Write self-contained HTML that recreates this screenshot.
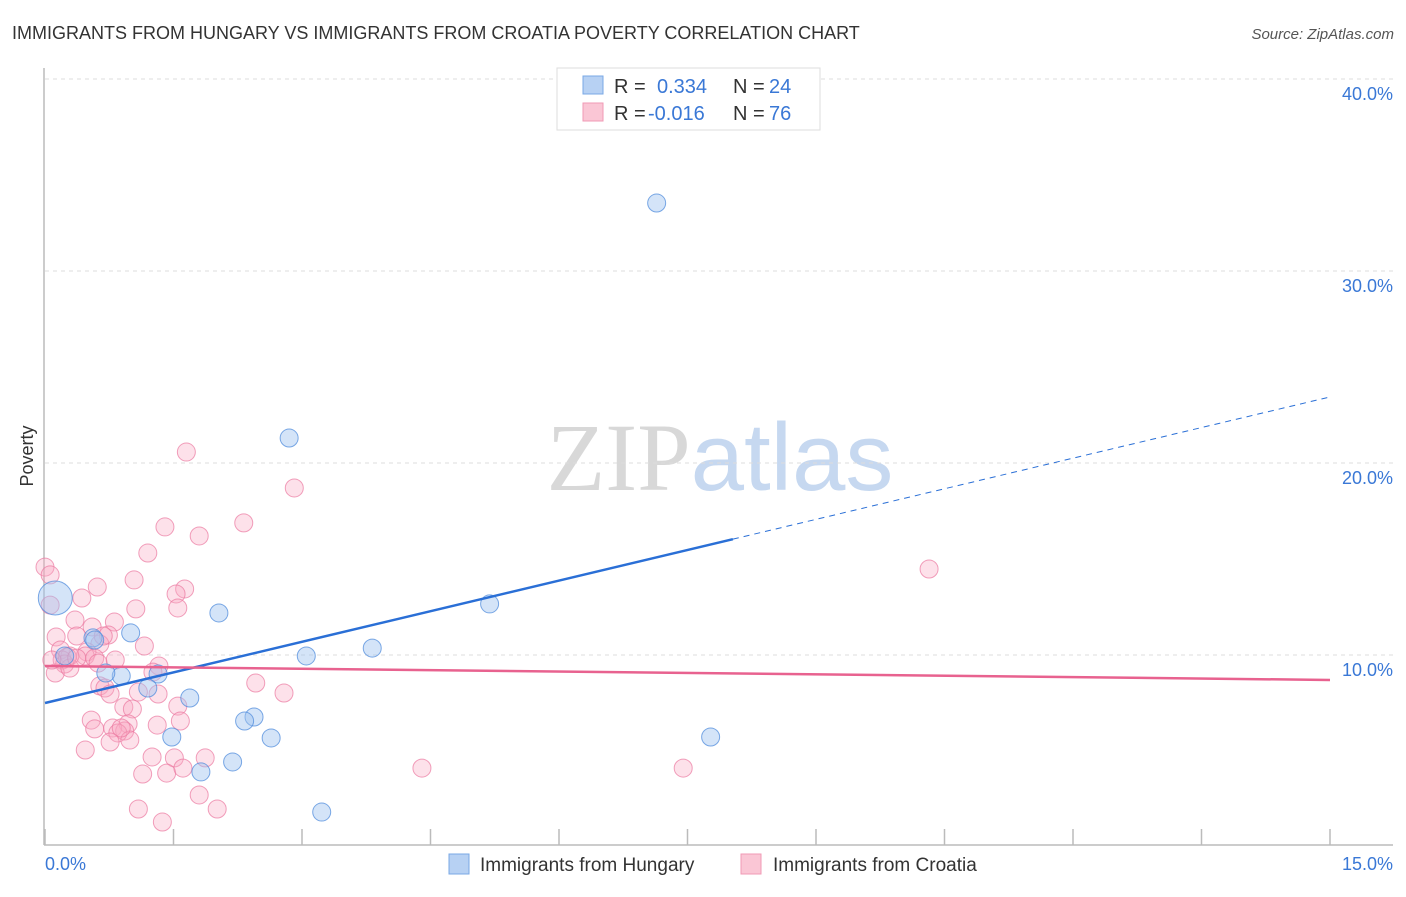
<!DOCTYPE html>
<html><head><meta charset="utf-8"><style>
body{margin:0;background:#fff;font-family:"Liberation Sans",sans-serif;}
svg text{font-family:"Liberation Sans",sans-serif;}
</style></head><body>
<svg id="chart" width="1406" height="892" xmlns="http://www.w3.org/2000/svg">
<text x="12" y="39" font-size="18" fill="#333">IMMIGRANTS FROM HUNGARY VS IMMIGRANTS FROM CROATIA POVERTY CORRELATION CHART</text>
<text x="1394" y="39" font-size="15" fill="#555" text-anchor="end" font-style="italic">Source: ZipAtlas.com</text>
<text x="720" y="490" font-size="96" text-anchor="middle"><tspan fill="#d8d8d8" font-family="Liberation Serif">ZIP</tspan><tspan fill="#c6d8f0">atlas</tspan></text>
<g id="grid"></g>
<g id="axes"></g>
<g id="pts"></g>
<g id="trends"></g>
<text transform="translate(33,456) rotate(-90)" font-size="18" fill="#333" text-anchor="middle">Poverty</text>
<g>
<rect x="557" y="68" width="263" height="62" fill="#fff" stroke="#ddd"/>
<rect x="583" y="76" width="20" height="18" fill="#b7d1f3" stroke="#7aa8e6"/>
<rect x="583" y="103" width="20" height="18" fill="#fac6d5" stroke="#f09ab5"/>
<text x="614" y="93" font-size="20" fill="#333">R =</text>
<text x="657" y="93" font-size="20" fill="#3a78d6">0.334</text>
<text x="733" y="93" font-size="20" fill="#333">N =</text>
<text x="769" y="93" font-size="20" fill="#3a78d6">24</text>
<text x="614" y="120" font-size="20" fill="#333">R =</text>
<text x="648" y="120" font-size="20" fill="#3a78d6">-0.016</text>
<text x="733" y="120" font-size="20" fill="#333">N =</text>
<text x="769" y="120" font-size="20" fill="#3a78d6">76</text>
</g>
<g>
<rect x="449" y="854" width="20" height="20" fill="#b7d1f3" stroke="#7aa8e6"/>
<text x="480" y="871" font-size="19" fill="#333">Immigrants from Hungary</text>
<rect x="741" y="854" width="20" height="20" fill="#fac6d5" stroke="#f09ab5"/>
<text x="773" y="871" font-size="19" fill="#333">Immigrants from Croatia</text>
</g>
</svg>
<script>
const yTicks=[10,20,30,40];
const yTickLabels=["10.0%","20.0%","30.0%","40.0%"];
const xTicks=[0,1.5,3,4.5,6,7.5,9,10.5,12,13.5,15];
const hungaryX=[7.14,2.85,5.19,2.03,3.82,1.00,0.56,3.05,0.23,0.89,1.32,1.20,1.69,2.44,2.33,1.48,2.64,7.77,2.19,1.82,3.23,0.71,0.12,0.58];
const hungaryY=[33.54,21.30,12.66,12.19,10.36,11.15,10.89,9.95,9.95,8.91,9.01,8.28,7.76,6.77,6.56,5.73,5.68,5.73,4.43,3.91,1.82,9.06,12.97,10.78];
const croatiaX=[1.65,2.91,1.40,2.32,1.80,1.20,0.00,0.06,1.04,0.61,1.63,1.53,0.43,0.06,1.06,1.55,0.35,0.81,0.55,0.74,0.13,0.37,1.16,0.64,0.18,0.49,0.47,0.29,0.20,0.58,0.23,0.12,1.33,1.26,0.29,0.62,0.64,0.70,1.09,1.32,0.76,0.92,1.02,1.55,2.46,2.79,0.54,1.58,1.31,0.97,0.58,0.79,0.93,0.85,0.76,0.99,0.47,1.87,1.51,1.14,1.42,1.61,4.40,7.45,1.80,1.09,2.01,1.37,10.32,1.25,0.68,0.26,0.37,0.82,0.08,0.89];
const croatiaY=[20.57,18.70,16.67,16.88,16.20,15.31,14.58,14.17,13.91,13.54,13.44,13.18,12.97,12.60,12.40,12.45,11.82,11.72,11.46,11.04,10.94,10.99,10.47,10.57,10.26,10.16,9.95,9.95,9.74,9.84,9.53,9.06,9.43,9.11,9.32,9.58,8.39,8.28,8.07,7.97,7.97,7.29,7.19,7.34,8.54,8.02,6.61,6.56,6.35,6.41,6.15,6.20,6.04,5.94,5.47,5.57,5.05,4.64,4.64,3.80,3.85,4.11,4.11,4.11,2.71,1.98,1.98,1.30,14.48,4.69,10.99,9.90,9.84,9.74,9.74,6.20];
const hungaryTrend=[7.5,23.44];
const hungarySolidEnd=8.03;
const croatiaTrend=[9.43,8.70];

const NS="http://www.w3.org/2000/svg";
const X0=45,X1=1330,Y0=847,PPY=19.2;
function sx(v){return X0+(X1-X0)*v/15;}
function sy(v){return Y0-v*PPY;}
function mk(tag,attrs,parent){const e=document.createElementNS(NS,tag);for(const k in attrs)e.setAttribute(k,attrs[k]);parent.appendChild(e);return e;}
const grid=document.getElementById('grid'),axes=document.getElementById('axes'),pts=document.getElementById('pts'),tr=document.getElementById('trends');
yTicks.forEach((t,i)=>{
  const l=mk('line',{x1:45,x2:1393,y1:sy(t),y2:sy(t),stroke:'#ddd','stroke-dasharray':'4,4'},grid);
  
  
  const tx=mk('text',{x:1393,y:sy(t)+21,'font-size':18,fill:'#3a78d6','text-anchor':'end'},axes);
  tx.textContent=yTickLabels[i];
  
  
});
const ya=mk('line',{x1:44,x2:44,y1:68,y2:845,stroke:'#bbb','stroke-width':1.5},axes);


const xa=mk('line',{x1:44,x2:1393,y1:845,y2:845,stroke:'#bbb','stroke-width':1.5},axes);


xTicks.forEach(t=>{
  const l=mk('line',{x1:sx(t),x2:sx(t),y1:829,y2:845,stroke:'#bbb','stroke-width':1.5},axes);
  
  
});
const xl0=mk('text',{x:45,y:870,'font-size':18,fill:'#3a78d6'},axes);xl0.textContent='0.0%';


const xl1=mk('text',{x:1393,y:870,'font-size':18,fill:'#3a78d6','text-anchor':'end'},axes);xl1.textContent='15.0%';


croatiaX.forEach((x,i)=>{
  const c=mk('circle',{cx:sx(x),cy:sy(croatiaY[i]),r:9,fill:'rgba(248,170,195,0.35)',stroke:'rgba(235,120,160,0.7)','stroke-width':1},pts);
  
  
});
hungaryX.forEach((x,i)=>{
  const big=(i===22);
  const c=mk('circle',{cx:sx(x),cy:sy(hungaryY[i]),r:big?17:9,fill:'rgba(160,195,240,0.45)',stroke:'rgba(80,140,220,0.75)','stroke-width':1},pts);
  
  
});
function lin(a,x){return a[0]+(a[1]-a[0])*x/15;}
const hs=mk('line',{x1:sx(0),y1:sy(hungaryTrend[0]),x2:sx(hungarySolidEnd),y2:sy(lin(hungaryTrend,hungarySolidEnd)),stroke:'#2a6fd6','stroke-width':2.5},tr);


const hd=mk('line',{x1:sx(hungarySolidEnd),y1:sy(lin(hungaryTrend,hungarySolidEnd)),x2:sx(15),y2:sy(hungaryTrend[1]),stroke:'#2a6fd6','stroke-width':1,'stroke-dasharray':'6,5'},tr);


const cl=mk('line',{x1:sx(0),y1:sy(croatiaTrend[0]),x2:sx(15),y2:sy(croatiaTrend[1]),stroke:'#e8628f','stroke-width':2.5},tr);


</script>
</body></html>
